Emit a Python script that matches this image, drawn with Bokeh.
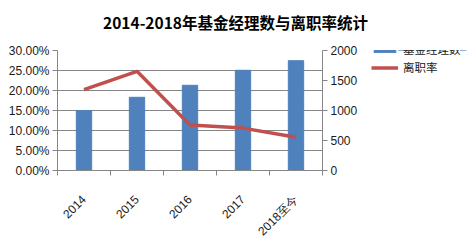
from math import pi
from bokeh.plotting import figure
from bokeh.layouts import column, row
from bokeh.models import (Range1d, LinearAxis, FixedTicker, SingleIntervalTicker,
                          NumeralTickFormatter, Legend, LegendItem, Label,
                          CustomLabelingPolicy)
from bokeh.embed import file_html
from bokeh.resources import INLINE

# ---- data ----
title_text = "2014-2018年基金经理数与离职率统计"
categories = ["2014", "2015", "2016", "2017", "2018至今"]
manager_counts = [1000, 1220, 1420, 1670, 1830]
turnover_rates = [0.202, 0.248, 0.114, 0.106, 0.083]
rate_ticks = [0.0, 0.05, 0.10, 0.15, 0.20, 0.25, 0.30]
series_names = ["基金经理数", "离职率"]

BAR_COLOR = "#4F81BD"
LINE_COLOR = "#C0504D"
AXIS_COLOR = "#868686"
TEXT_COLOR = "#1a1a1a"
TICK_FONT = "Liberation Sans"
CJK_FONT = "Noto Sans CJK SC"
BAR_WIDTH = 0.29
LINE_WIDTH = 3.5


def bare(fig):
    fig.outline_line_color = None
    fig.background_fill_color = "white"
    fig.border_fill_color = "white"
    return fig


# ---- title strip ----
tp = bare(figure(width=473, height=42, output_backend="svg", toolbar_location=None,
                 x_range=Range1d(0, 1), y_range=Range1d(0, 1),
                 x_axis_type=None, y_axis_type=None, min_border=0))
tp.grid.visible = False
tp.add_layout(Label(x=235, y=21, x_units="screen", y_units="screen", text=title_text,
                    text_align="center", text_baseline="middle", text_font=CJK_FONT,
                    text_font_style="bold", text_font_size="15.5px",
                    text_color="#000000"))

# ---- main chart ----
p = bare(figure(width=370, height=204, x_range=categories, y_range=Range1d(0, 0.30),
                output_backend="svg", toolbar_location=None,
                min_border_left=57, min_border_right=48, min_border_top=8,
                min_border_bottom=75))
p.extra_y_ranges = {"count": Range1d(0, 2000)}

p.xgrid.visible = False
p.ygrid.grid_line_color = AXIS_COLOR
p.ygrid.grid_line_width = 1

bars = p.vbar(x=categories, top=manager_counts, width=BAR_WIDTH, color=BAR_COLOR,
              y_range_name="count")
line = p.line(x=categories, y=turnover_rates, color=LINE_COLOR, line_width=LINE_WIDTH)

ya = p.yaxis[0]
ya.ticker = FixedTicker(ticks=rate_ticks)
ya.formatter = NumeralTickFormatter(format="0.00%")

ra = LinearAxis(y_range_name="count", ticker=SingleIntervalTicker(interval=500))
p.add_layout(ra, "right")

for ax in (ya, ra):
    ax.axis_line_color = AXIS_COLOR
    ax.major_tick_line_color = AXIS_COLOR
    ax.major_tick_in = 0
    ax.major_tick_out = 5
    ax.minor_tick_in = 0
    ax.minor_tick_out = 0
    ax.major_label_standoff = 3
    ax.major_label_text_font = TICK_FONT
    ax.major_label_text_font_size = "12px"
    ax.major_label_text_color = TEXT_COLOR

xa = p.xaxis[0]
xa.axis_line_color = None
xa.major_tick_in = 0
xa.major_tick_out = 0
xa.major_label_orientation = pi / 4
xa.major_label_standoff = 11
xa.major_label_text_font = TICK_FONT
xa.major_label_text_font_size = "12px"
xa.major_label_text_color = TEXT_COLOR

# tick marks at category boundaries (synthetic coordinates of the factor range)
ea = LinearAxis(ticker=FixedTicker(ticks=list(range(len(categories) + 1))))
ea.axis_line_color = AXIS_COLOR
ea.major_tick_line_color = AXIS_COLOR
ea.major_tick_in = 0
ea.major_tick_out = 5
ea.minor_tick_in = 0
ea.minor_tick_out = 0
ea.major_label_policy = CustomLabelingPolicy(code="return new Set()")
ea.major_label_standoff = 0
p.below = [ea, xa]

# ---- legend strip (series renderers kept outside its visible y range) ----
lp = bare(figure(width=103, height=204, output_backend="svg", toolbar_location=None,
                 x_range=categories, y_range=Range1d(-2, -1),
                 x_axis_type=None, y_axis_type=None, min_border=0))
lp.grid.visible = False
lbar = lp.vbar(x=categories, top=manager_counts, width=BAR_WIDTH, color=BAR_COLOR)
lline = lp.line(x=categories, y=turnover_rates, color=LINE_COLOR, line_width=LINE_WIDTH)
legend = Legend(items=[LegendItem(label=series_names[0], renderers=[lbar]),
                       LegendItem(label=series_names[1], renderers=[lline])],
                location=(1, 94), orientation="vertical",
                glyph_width=27, glyph_height=7, label_height=18, spacing=0,
                label_standoff=5, padding=0, margin=0,
                border_line_color=None, background_fill_alpha=0,
                label_text_font=CJK_FONT, label_text_font_size="11.5px",
                label_text_color=TEXT_COLOR)
lp.add_layout(legend, "center")

layout = column(tp, row(p, lp, spacing=0), spacing=0)
open("out.html", "w").write(file_html(layout, INLINE))
